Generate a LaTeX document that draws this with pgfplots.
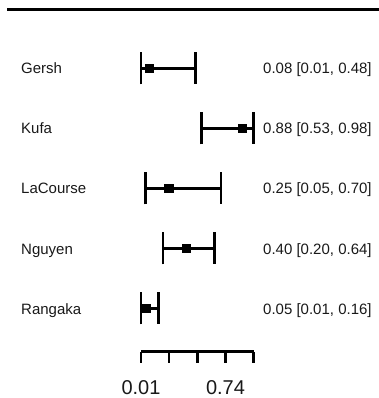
\documentclass[border=0pt]{standalone}
\usepackage{pgfplots}
\pgfplotsset{compat=1.18}
\usepackage{fontspec}
\setmainfont{Liberation Sans}
\definecolor{txt}{RGB}{25,25,25}
\begin{document}
\begin{tikzpicture}
\path[use as bounding box] (0,0) rectangle (379bp,398bp);
\begin{axis}[at={(0,0)}, anchor=south west, scale only axis,
  width=379bp, height=398bp,
  xmin=-1.2034, xmax=2.0582, ymin=0, ymax=398, y dir=reverse,
  hide axis, clip=false]
% top rule
\addplot[line width=3bp, black] coordinates {(-1.1406,9.7) (2.0582,9.7)};
% estimates with confidence intervals
\addplot[only marks, mark=square*, mark size=4.2bp, black,
  error bars/.cd, x dir=both, x explicit, error mark=-,
  error bar style={line width=2.6bp, black},
  error mark options={line width=2.6bp, mark size=16bp, black, rotate=90}]
  table[x=est, y=row, x error plus=ep, x error minus=em] {
est  row   em    ep
0.08 68.3  0.07  0.40
0.88 128.3 0.35  0.10
0.25 188.3 0.20  0.45
0.40 248.3 0.20  0.24
0.05 308.3 0.04  0.11
};
% study names
\addplot[only marks, mark=none,
  nodes near coords, point meta=explicit symbolic,
  every node near coord/.append style={anchor=base west, inner sep=0pt,
    font=\fontsize{15bp}{15bp}\selectfont, text=txt}]
  table[x=x, y=y, meta=lab, col sep=semicolon, row sep=\\] {
x;y;lab\\
-1.0227;74.0;Gersh\\
-1.0227;134.0;Kufa\\
-1.0227;194.0;LaCourse\\
-1.0227;254.0;Nguyen\\
-1.0227;314.0;Rangaka\\
};
% estimates text
\addplot[only marks, mark=none,
  nodes near coords, point meta=explicit symbolic,
  every node near coord/.append style={anchor=base west, inner sep=0pt,
    font=\fontsize{15bp}{15bp}\selectfont, text=txt}]
  table[x=x, y=y, meta=lab, col sep=semicolon, row sep=\\] {
x;y;lab\\
1.060;74.0;0.08 [0.01, 0.48]\\
1.060;134.0;0.88 [0.53, 0.98]\\
1.060;194.0;0.25 [0.05, 0.70]\\
1.060;254.0;0.40 [0.20, 0.64]\\
1.060;314.0;0.05 [0.01, 0.16]\\
};
\end{axis}
\begin{axis}[at={(141bp,46.3bp)}, anchor=south west, scale only axis,
  width=112.7bp, height=10bp,
  xmin=0.01, xmax=0.98, ymin=0, ymax=1,
  axis x line*=bottom, hide y axis,
  axis line style={line width=2.6bp, -, black},
  xtick={0.01,0.2525,0.495,0.7375,0.98},
  xticklabels={0.01,,,0.74,},
  tick align=outside, major tick length=11bp,
  every tick/.style={black, line width=2.6bp},
  xticklabel style={font=\fontsize{20bp}{20bp}\selectfont, text=txt, yshift=-14bp},
  /pgf/number format/assume math mode=true]
\addplot[draw=none] coordinates {(0.01,0) (0.98,0)};
\end{axis}
\end{tikzpicture}
\end{document}
